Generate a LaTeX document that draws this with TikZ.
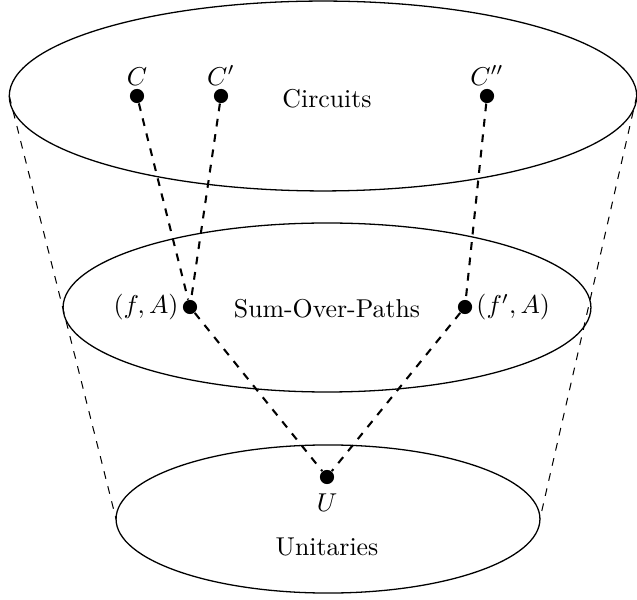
\documentclass[tikz,border=0pt]{standalone}
\usetikzlibrary{shapes.geometric}
\begin{document}
\begin{tikzpicture}[x=0.3876pt,y=-0.3876pt,
  setell/.style={draw,ellipse,inner sep=0pt,outer sep=0pt,line width=0.5pt},
  pt/.style={circle,fill=black,inner sep=0pt,minimum size=5.5pt},
  link/.style={dashed,line width=0.8pt},
  cone/.style={dashed,line width=0.4pt},
  lbl/.style={inner sep=0pt}]
\useasboundingbox (0,0) rectangle (637,600);
% sets
\node[setell,minimum width=243.2pt,minimum height=73.6pt] (top) at (323,96) {};
\node[setell,minimum width=204.6pt,minimum height=65.5pt] (mid) at (327,307.5) {};
\node[setell,minimum width=164.3pt,minimum height=57.4pt] (bot) at (328,519) {};
% cone
\draw[cone] (top.west) -- (bot.west);
\draw[cone] (top.east) -- (bot.east);
% titles
\node[lbl] (tc) at (327,99) {Circuits};
\node[lbl] (tm) at (327,309) {Sum-Over-Paths};
\node[lbl] (tb) at (327,547) {Unitaries};
% points
\node[pt,label={[inner sep=1pt]above:$C$}] (C) at (137,96) {};
\node[pt,label={[inner sep=1pt]above:$C'$}] (Cp) at (221,96) {};
\node[pt,label={[inner sep=1pt]above:$C''$}] (Cpp) at (487,96) {};
\node[pt,label={[inner sep=1.3pt]left:$(f,A)$}] (fA) at (190,307) {};
\node[pt,label={[inner sep=1.3pt]right:$(f',A)$}] (fpA) at (465,307) {};
\node[pt,label={[inner sep=3.4pt]below:$U$}] (U) at (327,477) {};
% links
\draw[link] (C) -- (fA);
\draw[link] (Cp) -- (fA);
\draw[link] (Cpp) -- (fpA);
\draw[link] (fA) -- (U);
\draw[link] (fpA) -- (U);
\end{tikzpicture}
\end{document}
